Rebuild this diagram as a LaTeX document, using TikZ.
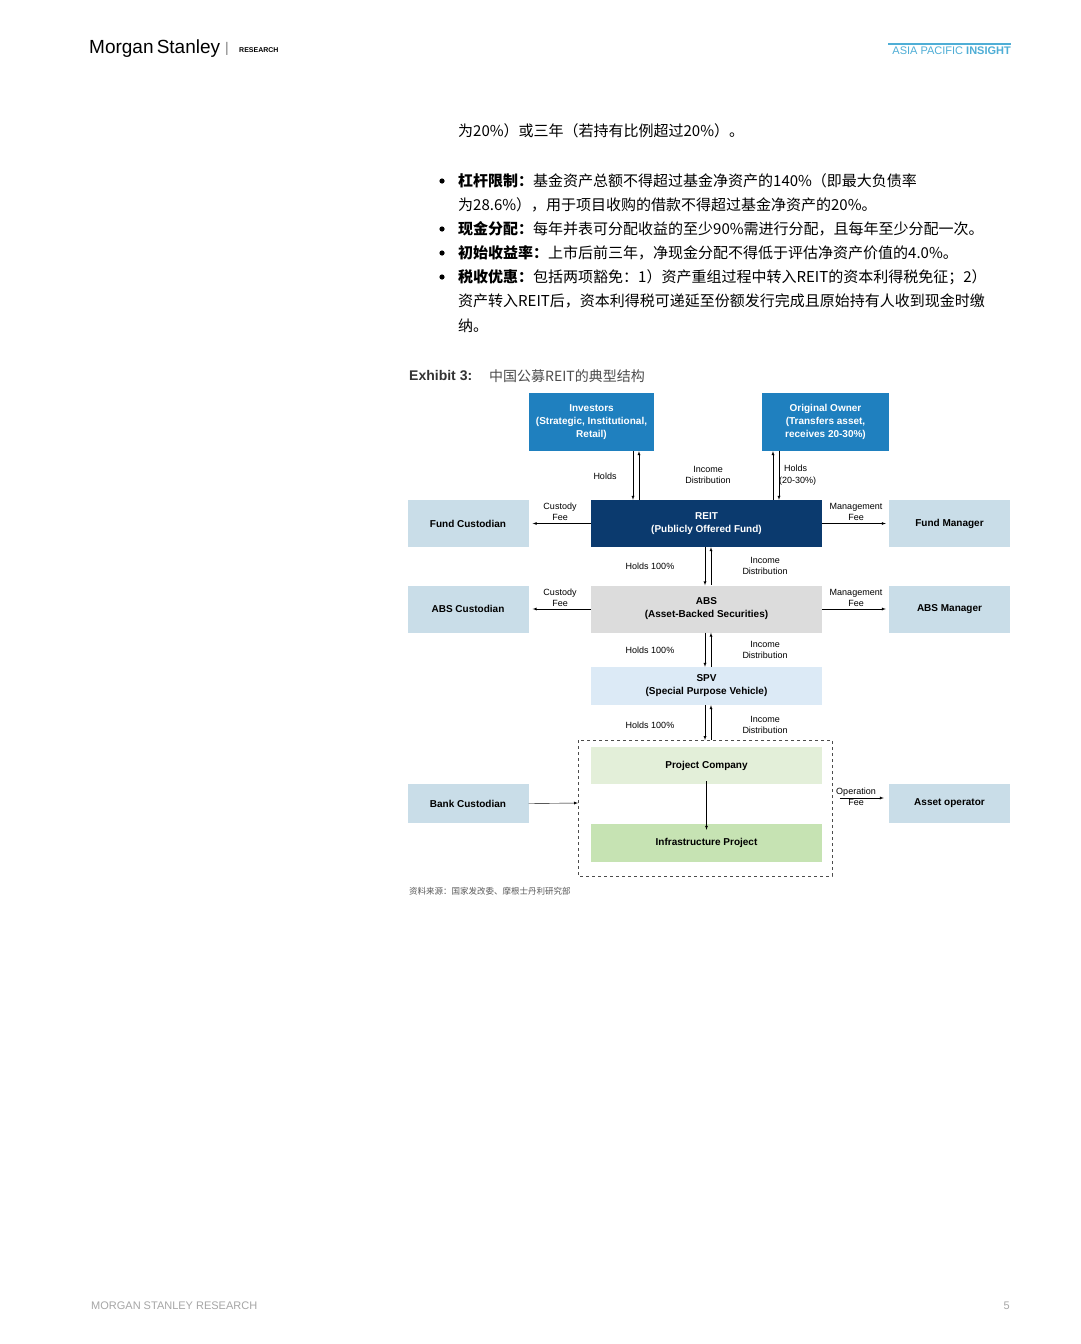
\documentclass[tikz,border=0pt]{standalone}
\usepackage{fontspec}
\setmainfont{Liberation Sans}
\newfontfamily\cjk{Noto Sans CJK SC}
\usetikzlibrary{arrows,positioning}
\definecolor{msblue}{HTML}{1F80BF}
\definecolor{msnavy}{HTML}{0B3A6E}
\definecolor{sideblue}{HTML}{C9DDE8}
\definecolor{absgrey}{HTML}{DCDCDC}
\definecolor{spvblue}{HTML}{DCEAF6}
\definecolor{pcgreen}{HTML}{E3EFD9}
\definecolor{ipgreen}{HTML}{C6E3B3}
\definecolor{insight}{HTML}{4FAED6}
\tikzset{
  box/.style={minimum width=121pt,minimum height=47pt,inner sep=0pt,align=center,font=\fontsize{10}{13}\selectfont\bfseries},
  sidebox/.style={box,fill=sideblue},
  midbox/.style={box,minimum width=231pt},
  lbl/.style={font=\fontsize{9}{11.5}\selectfont,align=center,inner sep=0pt},
  body/.style={anchor=west,inner sep=0pt,font=\cjk\fontsize{15}{18}\selectfont}
}
\begin{document}
\begin{tikzpicture}[x=1pt,y=-1pt,>=latex]
\useasboundingbox[fill=white] (0,0) rectangle (1080,1344);
% header
\node[anchor=west,inner sep=0pt,font=\fontsize{19}{20}\selectfont] (ms) at (89,49) {Morgan\,Stanley};
\node[anchor=west,inner sep=0pt,font=\fontsize{14}{14}\selectfont,text=gray] (bar) at (225,49) {|};
\node[anchor=west,inner sep=0pt,font=\fontsize{7}{7}\selectfont\bfseries] (rs) at (239,50) {RESEARCH};
\node[anchor=east,inner sep=0pt,font=\fontsize{11}{11}\selectfont,text=insight] (api) at (1011,51) {ASIA PACIFIC \textbf{INSIGHT}};
\draw[insight,line width=1.5pt] (888,44) -- (1011,44);
% body text
\node[body] (t1) at (458,131) {为20\%）或三年（若持有比例超过20\%）。};
\node[body] (t2) at (458,181) {\textbf{杠杆限制：}基金资产总额不得超过基金净资产的140\%（即最大负债率};
\node[body] (t3) at (458,205) {为28.6\%），用于项目收购的借款不得超过基金净资产的20\%。};
\node[body] (t4) at (458,229) {\textbf{现金分配：}每年并表可分配收益的至少90\%需进行分配，且每年至少分配一次。};
\node[body] (t5) at (458,253) {\textbf{初始收益率：}上市后前三年，净现金分配不得低于评估净资产价值的4.0\%。};
\node[body] (t6) at (458,277) {\textbf{税收优惠：}包括两项豁免：1）资产重组过程中转入REIT的资本利得税免征；2）};
\node[body] (t7) at (458,301) {资产转入REIT后，资本利得税可递延至份额发行完成且原始持有人收到现金时缴};
\node[body] (t8) at (458,326) {纳。};
\foreach \y in {181,229,253,277} \fill (442,\y) circle (2.6);
\node[anchor=west,inner sep=0pt,font=\fontsize{14}{14}\selectfont\bfseries,text=black!80] (ex) at (409,376) {Exhibit 3:};
\node[anchor=west,inner sep=0pt,font=\cjk\fontsize{14}{14}\selectfont,text=black!70] (ttl) at (489,376) {中国公募REIT的典型结构};
% boxes
\node[box,minimum width=125pt,minimum height=58pt,fill=msblue,text=white] (inv) at (591.5,422) {Investors\\(Strategic, Institutional,\\Retail)};
\node[box,minimum width=127pt,minimum height=58pt,fill=msblue,text=white] (own) at (825.5,422) {Original Owner\\(Transfers asset,\\receives 20-30\%)};
\node[midbox,fill=msnavy,text=white] (reit) at (706.5,523.5) {REIT\\(Publicly Offered Fund)};
\node[sidebox] (fc) at (468,523.5) {Fund Custodian};
\node[sidebox] (fm) at (949.5,523.5) {Fund Manager};
\node[midbox,fill=absgrey] (abs) at (706.5,609) {ABS\\(Asset-Backed Securities)};
\node[sidebox] (ac) at (468,609) {ABS Custodian};
\node[sidebox] (am) at (949.5,609) {ABS Manager};
\node[midbox,minimum height=38pt,fill=spvblue] (spv) at (706.5,686) {SPV\\(Special Purpose Vehicle)};
\draw[dashed,black!70] (578,740) rectangle (832,876);
\coordinate (dtop) at (706.5,740);
\coordinate (dleft) at (578,803);
\node[midbox,minimum height=37pt,fill=pcgreen] (pc) at (706.5,765.5) {Project Company};
\node[midbox,minimum height=38pt,fill=ipgreen] (ip) at (706.5,843) {Infrastructure Project};
\node[sidebox,minimum height=39pt] (bc) at (468,803.5) {Bank Custodian};
\node[sidebox,minimum height=39pt] (ao) at (949.5,803.5) {Asset operator};
% vertical flows
\draw[->] ([xshift=41.5]inv.south) -- ([xshift=41.5]inv.south |- reit.north);
\draw[<-] ([xshift=47.5]inv.south) -- ([xshift=47.5]inv.south |- reit.north);
\draw[<-] ([xshift=-52.5]own.south) -- ([xshift=-52.5]own.south |- reit.north);
\draw[->] ([xshift=-46.5]own.south) -- ([xshift=-46.5]own.south |- reit.north);
\draw[->] ([xshift=-1.5]reit.south) -- ([xshift=-1.5]abs.north);
\draw[<-] ([xshift=4.5]reit.south) -- ([xshift=4.5]abs.north);
\draw[->] ([xshift=-1.5]abs.south) -- ([xshift=-1.5]spv.north);
\draw[<-] ([xshift=4.5]abs.south) -- ([xshift=4.5]spv.north);
\draw[->] ([xshift=-1.5]spv.south) -- ([xshift=-1.5]dtop);
\draw[<-] ([xshift=4.5]spv.south) -- ([xshift=4.5]dtop);
\draw[->] ([yshift=3]pc.south) -- ([yshift=-6]ip.north);
% side flows
\draw[->] (reit.west) -- ([xshift=4]fc.east);
\draw[->] (reit.east) -- ([xshift=-3]fm.west);
\draw[->] (abs.west) -- ([xshift=4]ac.east);
\draw[->] (abs.east) -- ([xshift=-3]am.west);
\draw[->] (bc.east) -- (dleft);
\draw[->] ([xshift=-49,yshift=5.5]ao.west) -- ([xshift=-5,yshift=5.5]ao.west);
% labels
\node[lbl] (l1) at (605,476) {Holds};
\node[lbl] (l2) at (708,475) {Income\\Distribution};
\node[lbl,align=left,anchor=west] (l3) at (779,475) {\ \ Holds\\(20-30\%)};
\node[lbl] (l4) at (560,512) {Custody\\Fee};
\node[lbl] (l5) at (856,512) {Management\\Fee};
\node[lbl] (l6) at (560,598) {Custody\\Fee};
\node[lbl] (l7) at (856,598) {Management\\Fee};
\foreach \y/\n in {566/a,650/b,725/c} {
  \node[lbl] (h\n) at (650,\y) {Holds 100\%};
  \node[lbl] (d\n) at (765,\y) {Income\\Distribution};
}
\node[lbl] (l8) at (856,797) {Operation\\Fee};
\node[anchor=west,inner sep=0pt,font=\cjk\fontsize{8.5}{9}\selectfont,text=black!65] (src) at (409,891) {资料来源：国家发改委、摩根士丹利研究部};
% footer
\node[anchor=west,inner sep=0pt,font=\fontsize{11}{11}\selectfont,text=black!35] (ft) at (91,1306) {MORGAN STANLEY RESEARCH};
\node[anchor=east,inner sep=0pt,font=\fontsize{11}{11}\selectfont,text=black!35] (pg) at (1010,1306) {5};
\end{tikzpicture}
\end{document}
